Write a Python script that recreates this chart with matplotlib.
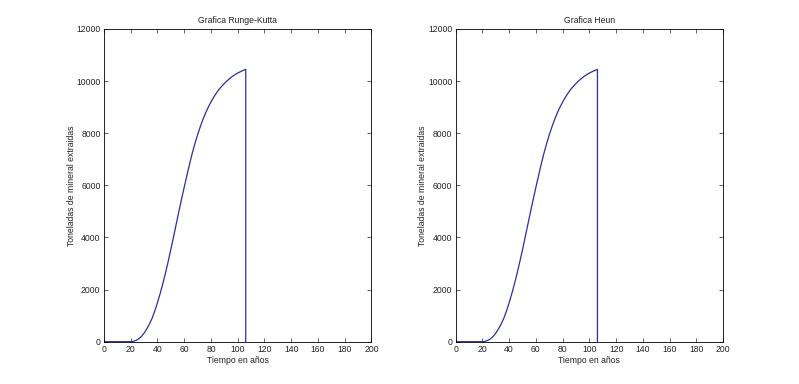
import matplotlib
matplotlib.use("Agg")
import matplotlib.pyplot as plt

# Years and extracted tonnes (same curve in both panels)
years = [0, 10, 20, 22, 24, 26, 28, 30, 32, 34, 36, 38, 40, 42, 44, 46, 48,
         50, 52, 54, 56, 58, 60, 62, 64, 66, 68, 70, 72, 74, 76, 78, 80, 82,
         84, 86, 88, 90, 92, 94, 96, 98, 100, 102, 104, 106, 106]
tonnes_rk = [0, 0, 0, 15, 50, 110, 200, 330, 490, 680, 900, 1180, 1500, 1850,
             2230, 2640, 3080, 3540, 4020, 4510, 5000, 5470, 5930, 6380, 6820,
             7230, 7600, 7940, 8250, 8530, 8780, 9000, 9200, 9380, 9540, 9680,
             9800, 9910, 10010, 10100, 10180, 10250, 10310, 10360, 10410,
             10450, 0]
tonnes_heun = [0, 0, 0, 15, 50, 110, 200, 330, 490, 680, 900, 1180, 1500, 1850,
               2230, 2640, 3080, 3540, 4020, 4510, 5000, 5470, 5930, 6380, 6820,
               7230, 7600, 7940, 8250, 8530, 8780, 9000, 9200, 9380, 9540, 9680,
               9800, 9910, 10010, 10100, 10180, 10250, 10310, 10360, 10410,
               10450, 0]

titles = ["Grafica Runge-Kutta", "Grafica Heun"]
xticks = list(range(0, 201, 20))
yticks = list(range(0, 12001, 2000))

plt.rcParams['font.family'] = ['Liberation Sans', 'DejaVu Sans']
fs = 6.2

fig = plt.figure(figsize=(7.99, 3.84), dpi=100)
lefts = [104 / 799, 455.7 / 799]
for left, title, data in zip(lefts, titles, [tonnes_rk, tonnes_heun]):
    ax = fig.add_axes([left, 0.1102, 0.3347, 0.8143])
    ax.plot(years, data, color='#2e2e9c', lw=0.9)
    ax.set_xlim(0, 200)
    ax.set_ylim(0, 12000)
    ax.set_xticks(xticks)
    ax.set_yticks(yticks)
    ax.tick_params(direction='in', length=3, width=0.5, labelsize=fs,
                   top=True, right=True, pad=2.5, colors='#222222')
    for s in ax.spines.values():
        s.set_linewidth(0.6)
    ax.set_title(title, fontsize=fs, pad=4, color='#222222')
    ax.set_xlabel('Tiempo en años', fontsize=fs, labelpad=1, color='#222222')
    ax.set_ylabel('Toneladas de mineral extraidas', fontsize=fs, labelpad=0.5,
                  color='#222222')

fig.savefig('out.png', dpi=100)
